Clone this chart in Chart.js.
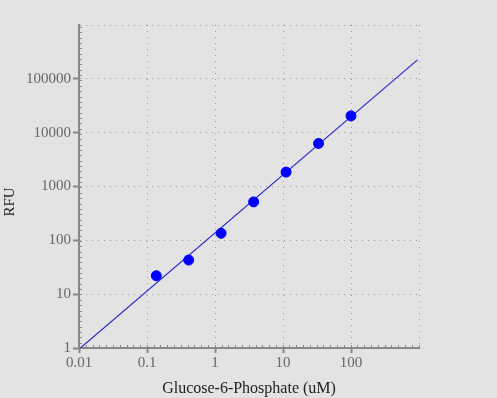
<!DOCTYPE html>
<html lang="en">
<head>
  <meta charset="UTF-8">
  <title>Glucose-6-Phosphate standard curve</title>
  <script src="https://cdn.jsdelivr.net/npm/chart.js"></script>
  <style>
    html, body { margin: 0; padding: 0; background: #e3e3e3; }
    canvas { display: block; }
  </style>
</head>
<body>
  <canvas id="curveChart" width="497" height="398"></canvas>

  <script>
    // standards (uM) and measured RFU
    const concentrations = [0.137, 0.41, 1.23, 3.7, 11.1, 33.3, 100];
    const rfuValues = [22, 43, 135, 518, 1850, 6300, 20500];

    // fitted line, two end points
    const fitX = [0.01, 950];
    const fitY = [0.95, 225000];

    // decade ticks
    const xTicks = [0.01, 0.1, 1, 10, 100, 1000];
    const yTicks = [1, 10, 100, 1000, 10000, 100000, 1000000];

    const xTitle = 'Glucose-6-Phosphate (uM)';
    const yTitle = 'RFU';

    const serif = "'Liberation Serif', 'Times New Roman', serif";

    // minor tick marks along left and bottom axes + the y title
    const decorations = {
      id: 'decorations',
      afterDraw(chart) {
        const ctx = chart.ctx;
        const a = chart.chartArea;
        ctx.save();
        ctx.strokeStyle = '#888';
        ctx.lineWidth = 1;
        ctx.beginPath();
        for (let y = a.bottom; y >= a.top; y -= 5.35) {
          ctx.moveTo(a.left, Math.round(y) + 0.5);
          ctx.lineTo(a.left + 3, Math.round(y) + 0.5);
        }
        for (let x = a.left; x <= a.right; x += 6.79) {
          ctx.moveTo(Math.round(x) + 0.5, a.bottom);
          ctx.lineTo(Math.round(x) + 0.5, a.bottom - 3);
        }
        ctx.stroke();

        // y axis title, centred on the canvas height like the original
        ctx.translate(10, 202);
        ctx.rotate(-Math.PI / 2);
        ctx.fillStyle = '#222';
        ctx.font = '15px ' + serif;
        ctx.textAlign = 'center';
        ctx.textBaseline = 'middle';
        ctx.fillText(yTitle, 0, 0);
        ctx.restore();
      }
    };

    const ctx = document.getElementById('curveChart').getContext('2d');
    const curveChart = new Chart(ctx, {
      type: 'scatter',
      data: {
        datasets: [
          {
            label: 'Standards',
            data: concentrations.map((c, i) => ({ x: c, y: rfuValues[i] })),
            backgroundColor: '#0000ff',
            borderColor: '#0000ff',
            pointRadius: 5,
            order: 1
          },
          {
            label: 'Fit',
            type: 'line',
            data: fitX.map((c, i) => ({ x: c, y: fitY[i] })),
            borderColor: '#2a2ac8',
            borderWidth: 1.2,
            pointRadius: 0,
            fill: false,
            order: 2
          }
        ]
      },
      options: {
        responsive: false,
        animation: false,
        layout: { padding: { top: 25, right: 78, left: 0, bottom: 0 } },
        plugins: {
          legend: { display: false },
          tooltip: { enabled: false }
        },
        scales: {
          x: {
            type: 'logarithmic',
            min: 0.01,
            max: 1000,
            afterBuildTicks: s => { s.ticks = xTicks.map(v => ({ value: v })); },
            afterFit: s => { s.height = 50; },
            ticks: {
              autoSkip: false,
              maxRotation: 0,
              padding: 1,
              color: '#666',
              font: { family: serif, size: 15 },
              callback: v => v === 1000 ? '' : String(v)
            },
            grid: {
              color: '#9a9a9a',
              tickBorderDash: [],
              tickColor: c => c.tick && c.tick.value === 1000 ? 'rgba(0,0,0,0)' : '#888',
              tickLength: 5,
              tickWidth: 2
            },
            border: { display: true, color: '#888', width: 2, dash: [1, 5] },
            title: {
              display: true,
              text: xTitle,
              color: '#222',
              font: { family: serif, size: 16 },
              padding: { top: 1, bottom: 0 }
            }
          },
          y: {
            type: 'logarithmic',
            min: 1,
            max: 1000000,
            afterBuildTicks: s => { s.ticks = yTicks.map(v => ({ value: v })); },
            afterFit: s => { s.width = 79; },
            ticks: {
              autoSkip: false,
              padding: 2,
              color: '#666',
              font: { family: serif, size: 15 },
              callback: v => v === 1000000 ? '' : String(v)
            },
            grid: {
              color: '#9a9a9a',
              tickBorderDash: [],
              tickColor: c => c.tick && c.tick.value === 1000000 ? 'rgba(0,0,0,0)' : '#888',
              tickLength: 6,
              tickWidth: 2
            },
            border: { display: true, color: '#888', width: 2, dash: [1, 5] }
          }
        }
      },
      plugins: [decorations]
    });
  </script>
</body>
</html>
